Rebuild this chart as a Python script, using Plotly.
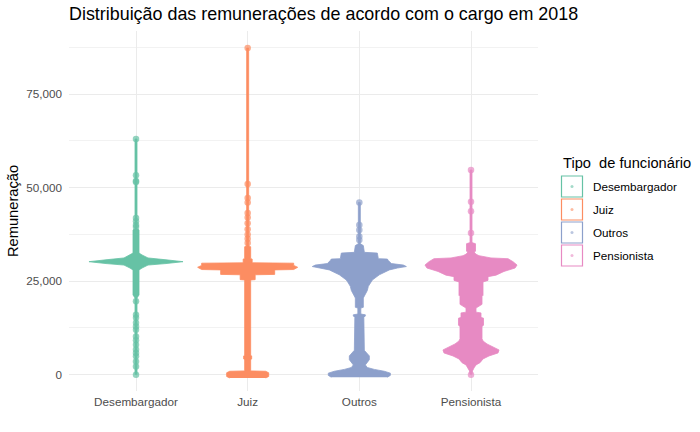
import plotly.graph_objects as go

categories = ["Desembargador", "Juiz", "Outros", "Pensionista"]
colors = ["#66C2A5", "#FC8D62", "#8DA0CB", "#E78AC3"]

# Density profiles: salary level and relative spread of points there
desemb_levels = [0, 20500, 21300, 28000, 28500, 29300, 29700, 30200, 30700, 31200, 32000, 32500, 38700, 39000, 63000]
desemb_spread = [1, 1, 3, 3, 6, 12, 30, 47, 30, 12, 6, 3, 3, 1, 1]

juiz_levels = [-900, -500, 500, 900, 1000, 4000, 4200, 5000, 5200, 25300, 25400, 26700, 26800, 28000, 28100,
               28700, 29200, 29800, 29900, 30900, 31000, 34200, 34400, 87300]
juiz_spread = [18, 21, 21, 18, 3, 3, 4, 4, 3, 3, 7.5, 7.5, 27, 27, 46,
               50, 46, 46, 4.5, 4.5, 3, 3, 1, 1]

outros_levels = [-700, -200, 400, 900, 1400, 1900, 2600, 3200, 4000, 5000, 5800, 6500, 15300, 15700, 16000,
                 16200, 17800, 18000, 20500, 21500, 22500, 23600, 24500, 25300, 26700, 28000, 28500, 28900,
                 29300, 29700, 30500, 30900, 31000, 32500, 32700, 34500, 35000, 46000]
outros_spread = [28, 31, 31, 25, 15, 8, 6, 8, 10, 10, 7, 5, 4.5, 6, 6,
                 1.5, 1.5, 4, 4, 6, 8, 9, 11, 13, 20, 30, 38, 47,
                 44, 32, 29, 28, 19, 18, 5, 4, 1, 1]

pens_levels = [0, 1000, 1800, 2600, 3200, 4200, 5000, 5800, 6600, 7400, 8200, 9000, 9600, 12900, 13200,
               15100, 15300, 16500, 16700, 17800, 18200, 18800, 20900, 21200, 24800, 25200, 26200, 26600,
               27600, 28500, 29300, 30200, 31000, 31200, 31800, 32200, 32800, 33000, 35000, 35300, 54700]
pens_spread = [1, 1.5, 3, 5, 9, 12, 18, 27, 28, 22, 16, 12, 11, 11, 12.5,
               12.5, 10, 10, 5, 5, 7, 11, 11, 12, 12, 17, 17, 25,
               33, 44, 46, 42, 37, 20, 8, 5, 3, 4.5, 4.5, 1, 1]

# isolated individual salaries drawn as single points
desemb_points = [63000, 53300, 51800, 51500, 41900, 41000, 40000, 39500, 19600, 16000, 15200, 13900, 12900,
                 12000, 10200, 9200, 8000, 6700, 5800, 4900, 3500, 2200, 0]
juiz_points = [87300, 51000, 47200, 46000, 43200, 42000, 40500, 38900, 37500, 36300, 35200, 4600]
outros_points = [46000, 40000, 38700, 36900, 36000]
pens_points = [54700, 46200, 43700, 37900, 0]

levels = [desemb_levels, juiz_levels, outros_levels, pens_levels]
spreads = [desemb_spread, juiz_spread, outros_spread, pens_spread]
points = [desemb_points, juiz_points, outros_points, pens_points]

SPREAD_SCALE = 1 / 111.6  # spread units -> category width

fig = go.Figure()
for i, cat in enumerate(categories):
    c = i + 1
    lv = levels[i]
    sp = spreads[i]
    xs = [c + s * SPREAD_SCALE for s in sp] + [c - s * SPREAD_SCALE for s in reversed(sp)]
    ys = list(lv) + list(reversed(lv))
    fig.add_trace(go.Scatter(x=xs, y=ys, mode="lines", fill="toself", fillcolor=colors[i],
                             line=dict(color=colors[i], width=0.8), name=cat, showlegend=False,
                             hoverinfo="skip"))
    fig.add_trace(go.Scatter(x=[c] * len(points[i]), y=points[i], mode="markers",
                             marker=dict(color=colors[i], size=6.5, opacity=0.7, line=dict(width=0)),
                             name=cat, showlegend=False))

FONT = "Liberation Sans, Arial, sans-serif"

W, H = 700, 432
L, R, T, B = 69, 538, 31, 391  # plot area in pixels


def px2x(p):
    return (p - L) / (R - L)


def py2y(p):
    return (B - p) / (B - T)


shapes = []
annotations = []
annotations.append(dict(text="Tipo  de funcionário", x=px2x(561), y=py2y(162.5), xref="paper", yref="paper",
                        xanchor="left", yanchor="middle", showarrow=False,
                        font=dict(family=FONT, size=14.67, color="#000000")))
for i, cat in enumerate(categories):
    top = 176 + 23 * i
    shapes.append(dict(type="rect", xref="paper", yref="paper", x0=px2x(561.5), x1=px2x(582.5),
                       y0=py2y(top), y1=py2y(top + 21), line=dict(color=colors[i], width=1.2),
                       fillcolor="white"))
    shapes.append(dict(type="circle", xref="paper", yref="paper", x0=px2x(570.5), x1=px2x(573.5),
                       y0=py2y(top + 9), y1=py2y(top + 12), line=dict(width=0),
                       fillcolor=colors[i], opacity=0.6))
    annotations.append(dict(text=cat, x=px2x(591), y=py2y(top + 10.5), xref="paper", yref="paper",
                            xanchor="left", yanchor="middle", showarrow=False,
                            font=dict(family=FONT, size=11.7, color="#000000")))

annotations.append(dict(text="Remuneração", x=px2x(13), y=py2y(211), xref="paper", yref="paper",
                        showarrow=False, textangle=-90,
                        font=dict(family=FONT, size=14.67, color="#000000"),
                        xanchor="center", yanchor="middle"))

fig.update_layout(
    width=W, height=H,
    margin=dict(l=L, r=W - R, t=T, b=H - B, pad=0),
    plot_bgcolor="white", paper_bgcolor="white",
    title=dict(text="Distribuição das remunerações de acordo com o cargo em 2018",
               x=0, xref="paper", xanchor="left", y=1 - 14 / H, yref="container",
               yanchor="middle", font=dict(family=FONT, size=17.9, color="#000000")),
    xaxis=dict(range=[0.4, 4.6], tickvals=[1, 2, 3, 4], ticktext=categories, showgrid=True,
               gridcolor="#EBEBEB", gridwidth=1.07, zeroline=False, showline=False, ticks="",
               tickfont=dict(family=FONT, size=11.7, color="#4D4D4D"), ticklabelstandoff=2),
    yaxis=dict(range=[-4375, 91875], tickvals=[0, 25000, 50000, 75000], tickformat=",",
               showgrid=True, gridcolor="#EBEBEB", gridwidth=1.07, zeroline=False, showline=False,
               ticks="", tickfont=dict(family=FONT, size=11.7, color="#4D4D4D"), ticklabelstandoff=6,
               minor=dict(tickvals=[12500, 37500, 62500, 87500], showgrid=True, gridcolor="#F2F2F2",
                          gridwidth=0.6)),
    shapes=shapes, annotations=annotations, showlegend=False,
)

# remove the browser's default page margin so the figure sits at the window's corner
fig.write_html("out.html", config={"displayModeBar": False},
               post_script="document.body.style.margin='0px';")
